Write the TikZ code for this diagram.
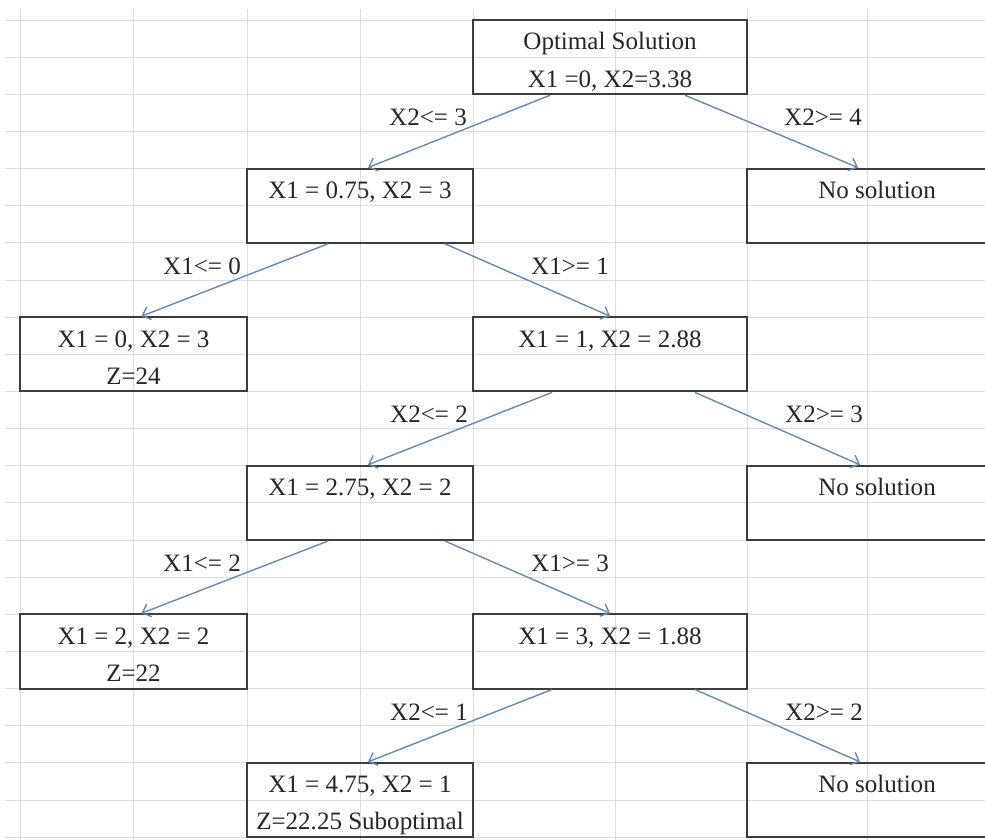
\documentclass[tikz,border=0pt]{standalone}
\usepackage{fontspec}
\setmainfont{Liberation Serif}
\usetikzlibrary{%
  arrows.meta,%
  calc%
}
\definecolor{branchblue}{RGB}{104,138,178}
\definecolor{cellgray}{RGB}{220,220,220}
\definecolor{boxgray}{RGB}{60,60,60}
\newcommand\cellrow{\rule[-5.1pt]{0pt}{26.4pt}}
\tikzset{>={Straight Barb[length=1.8mm,width=3.4mm]}}
\tikzset{
  sheet/.style={font=\fontsize{17.8pt}{26.4pt}\selectfont, text=black!85},
  cell/.style={draw=boxgray, line width=1.4pt, inner sep=0pt, align=center,
    minimum height=1.857cm},
  narrowcell/.style={cell, minimum width=5.675cm},
  midcell/.style={cell, minimum width=5.65cm},
  widecell/.style={cell, minimum width=6.85cm},
  opencell/.style={cell, minimum width=6.5cm},
  branch/.style={draw=branchblue, line width=1pt},
  gridline/.style={cellgray, line width=0.7pt}
}

\begin{document}
\begin{tikzpicture}[x=0.025cm,y=-0.025cm,sheet]
  \useasboundingbox (0,0) rectangle (985,840);
  \fill[white] (0,0) rectangle (985,840);
  % worksheet cells
  \foreach \k in {0,...,22}
    \draw[gridline] (5,20+37.143*\k) -- (985,20+37.143*\k);
  \foreach \x in {20,133,247,360,473,615,747,867}
    \draw[gridline] (\x,9) -- (\x,840);

  % subproblems
  \node[widecell] (root) at (610,57.14) {\cellrow Optimal Solution\\\cellrow X1 =0, X2=3.38};
  \node[midcell] (p1) at (360,205.7) {\cellrow X1 = 0.75, X2 = 3\\\cellrow};
  \node[opencell] (none1) at (877,205.7) {\cellrow No solution\\\cellrow};
  \node[narrowcell] (p2) at (133.5,354.3) {\cellrow X1 = 0, X2 = 3\\\cellrow Z=24};
  \node[widecell] (p3) at (610,354.3) {\cellrow X1 = 1, X2 = 2.88\\\cellrow};
  \node[midcell] (p4) at (360,502.9) {\cellrow X1 = 2.75, X2 = 2\\\cellrow};
  \node[opencell] (none2) at (877,502.9) {\cellrow No solution\\\cellrow};
  \node[narrowcell] (p5) at (133.5,651.4) {\cellrow X1 = 2, X2 = 2\\\cellrow Z=22};
  \node[widecell] (p6) at (610,651.4) {\cellrow X1 = 3, X2 = 1.88\\\cellrow};
  \node[midcell] (p7) at (360,800) {\cellrow X1 = 4.75, X2 = 1\\\cellrow Z=22.25 Suboptimal};
  \node[opencell] (none3) at (877,800) {\cellrow No solution\\\cellrow};

  % branches
  \draw[branch,->] ([xshift=-1.5cm]root.south) -- ([xshift=0.2cm]p1.north);
  \draw[branch,->] ([xshift=1.875cm]root.south) -- ([xshift=-0.475cm]none1.north);
  \draw[branch,->] ([xshift=-0.8cm]p1.south) -- ([xshift=0.2cm]p2.north);
  \draw[branch,->] ([xshift=2.125cm]p1.south) -- (p3.north);
  \draw[branch,->] ([xshift=-1.45cm]p3.south) -- ([xshift=0.2cm]p4.north);
  \draw[branch,->] ([xshift=2.125cm]p3.south) -- ([xshift=-0.425cm]none2.north);
  \draw[branch,->] ([xshift=-0.8cm]p4.south) -- ([xshift=0.2cm]p5.north);
  \draw[branch,->] ([xshift=2.125cm]p4.south) -- (p6.north);
  \draw[branch,->] ([xshift=-1.45cm]p6.south) -- ([xshift=0.2cm]p7.north);
  \draw[branch,->] ([xshift=2.125cm]p6.south) -- ([xshift=-0.425cm]none3.north);

  % constraints
  \node (cut1) at (428,117) {X2<= 3};
  \node (cut2) at (823,117) {X2>= 4};
  \node (cut3) at (202,266) {X1<= 0};
  \node (cut4) at (570,266) {X1>= 1};
  \node (cut5) at (429,414) {X2<= 2};
  \node (cut6) at (824,414) {X2>= 3};
  \node (cut7) at (202,563) {X1<= 2};
  \node (cut8) at (570,563) {X1>= 3};
  \node (cut9) at (429,712) {X2<= 1};
  \node (cut10) at (824,712) {X2>= 2};
\end{tikzpicture}
\end{document}
